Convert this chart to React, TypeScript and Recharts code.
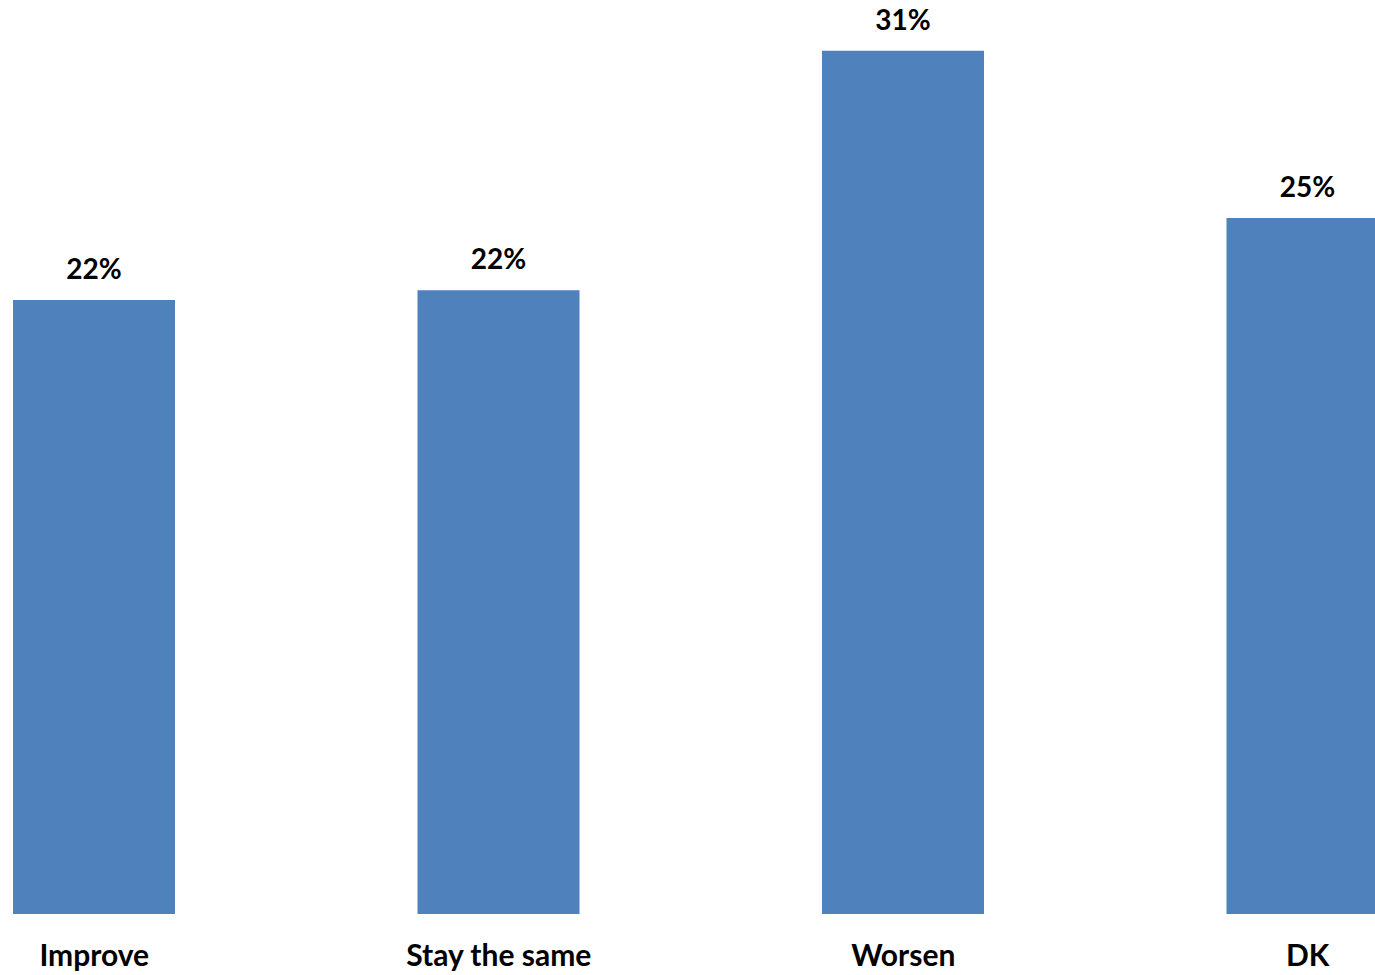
import { BarChart, Bar, XAxis, YAxis, LabelList } from 'recharts'

const categories = ['Improve', 'Stay the same', 'Worsen', 'DK']
const shares = [22.05, 22.4, 31.0, 25.0]

const chartData = categories.map((name, i) => ({ name, value: shares[i] }))

const FONT = 'Lato, "Open Sans", sans-serif'

function CategoryTick({ x, y, payload }: { x?: number; y?: number; payload?: { value: string } }) {
  return (
    <text
      x={x}
      y={(y ?? 0) + 52}
      textAnchor="middle"
      fontFamily={FONT}
      fontWeight={700}
      fontSize={30}
      fill="#000"
    >
      {payload?.value}
    </text>
  )
}

export default function App() {
  return (
    <div style={{
      position: 'absolute',
      top: 0,
      left: 0,
      width: 1375,
      height: 975,
      overflow: 'hidden',
      background: '#fff',
    }}>
      {/* chart is wider than the window; first and last bands are clipped */}
      <div style={{ position: 'absolute', top: 0, left: -108 }}>
        <BarChart
          width={1618}
          height={975}
          data={chartData}
          margin={{ top: 23, right: 0, left: 0, bottom: 0 }}
        >
          <XAxis
            dataKey="name"
            axisLine={false}
            tickLine={false}
            tickSize={0}
            tickMargin={0}
            height={61}
            interval={0}
            tick={<CategoryTick />}
          />
          <YAxis hide domain={[0, 32]} />
          <Bar dataKey="value" fill="#4F81BD" barSize={162} isAnimationActive={false}>
            <LabelList
              dataKey="value"
              position="top"
              offset={21}
              formatter={(v: number) => `${Math.round(v)}%`}
              style={{ fontFamily: FONT, fontWeight: 700, fontSize: 28, fill: '#000' }}
            />
          </Bar>
        </BarChart>
      </div>
    </div>
  )
}
